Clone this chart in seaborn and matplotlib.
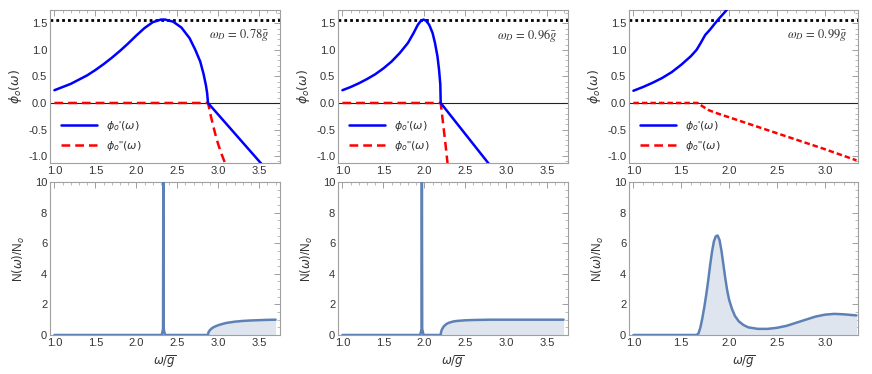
import numpy as np
import matplotlib
matplotlib.use("Agg")
import matplotlib.pyplot as plt
from matplotlib.ticker import MultipleLocator, FormatStrFormatter
import seaborn as sns

# --- data ---
labels_wd = ["0.78", "0.96", "0.99"]
x_limits = [(0.946, 3.754), (0.946, 3.754), (0.954, 3.346)]

# panel 1 (omega_D = 0.78 g)
p1_re_w = [1.0, 1.1, 1.2, 1.3, 1.4, 1.5, 1.6, 1.7, 1.8, 1.9, 2.0, 2.1, 2.2, 2.3, 2.35, 2.45,
           2.55, 2.65, 2.72, 2.78, 2.82, 2.85, 2.865, 2.875, 3.53]
p1_re_v = [0.24, 0.3, 0.36, 0.44, 0.52, 0.62, 0.73, 0.85, 0.98, 1.12, 1.27, 1.41, 1.52, 1.57, 1.57, 1.53,
           1.42, 1.22, 1.0, 0.78, 0.55, 0.33, 0.18, 0.0, -1.15]
p1_im_w = [1.0, 2.875, 2.89, 2.91, 2.94, 2.97, 3.0, 3.04, 3.09]
p1_im_v = [0.0, 0.0, -0.1, -0.25, -0.44, -0.62, -0.78, -0.96, -1.16]
p1_dos_w = [1.0, 2.31, 2.326, 2.33, 2.334, 2.35, 2.875, 2.878, 2.885, 2.9, 2.92, 2.95, 3.0, 3.05,
            3.1, 3.2, 3.3, 3.4, 3.5, 3.6, 3.7]
p1_dos_v = [0.0, 0.0, 0.4, 12.0, 0.4, 0.0, 0.0, 0.12, 0.22, 0.33, 0.43, 0.53, 0.64, 0.72,
            0.79, 0.87, 0.92, 0.95, 0.97, 0.99, 1.0]

# panel 2 (omega_D = 0.96 g)
p2_re_w = [1.0, 1.1, 1.2, 1.3, 1.4, 1.5, 1.6, 1.7, 1.8, 1.87, 1.92, 1.96, 1.99, 2.02, 2.06, 2.1,
           2.13, 2.16, 2.18, 2.195, 2.2, 2.79]
p2_re_v = [0.24, 0.3, 0.37, 0.45, 0.54, 0.65, 0.78, 0.94, 1.13, 1.32, 1.47, 1.55, 1.57, 1.55, 1.47, 1.32,
           1.13, 0.88, 0.62, 0.35, 0.0, -1.15]
p2_im_w = [1.0, 2.2, 2.23, 2.26, 2.285]
p2_im_v = [0.0, 0.0, -0.4, -0.8, -1.16]
p2_dos_w = [1.0, 1.95, 1.966, 1.97, 1.974, 1.99, 2.2, 2.203, 2.21, 2.22, 2.24, 2.27, 2.3, 2.35,
            2.4, 2.5, 2.6, 2.8, 3.7]
p2_dos_v = [0.0, 0.0, 0.4, 12.0, 0.4, 0.0, 0.0, 0.15, 0.3, 0.42, 0.58, 0.72, 0.8, 0.88,
            0.92, 0.96, 0.98, 1.0, 1.0]

# panel 3 (omega_D = 0.99 g)
p3_re_w = [1.0, 1.1, 1.2, 1.3, 1.4, 1.5, 1.6, 1.66, 1.7, 1.75, 1.8, 1.88, 1.95, 2.02]
p3_re_v = [0.23, 0.3, 0.38, 0.47, 0.58, 0.72, 0.88, 1.0, 1.12, 1.28, 1.38, 1.56, 1.7, 1.85]
p3_im_w = [1.0, 1.67, 1.72, 1.78, 1.85, 2.0, 2.5, 3.0, 3.33]
p3_im_v = [0.0, 0.0, -0.06, -0.13, -0.18, -0.27, -0.57, -0.87, -1.08]
p3_dos_w = [1.0, 1.66, 1.68, 1.7, 1.72, 1.74, 1.76, 1.78, 1.8, 1.82, 1.84, 1.86, 1.88, 1.9, 1.92,
            1.94, 1.96, 1.98, 2.0, 2.03, 2.06, 2.1, 2.15, 2.2, 2.3, 2.4, 2.5, 2.6, 2.7, 2.8,
            2.9, 3.0, 3.1, 3.2, 3.33]
p3_dos_v = [0.0, 0.0, 0.1, 0.5, 1.1, 1.8, 2.6, 3.5, 4.5, 5.4, 6.1, 6.45, 6.5, 6.2, 5.5,
            4.6, 3.7, 2.9, 2.3, 1.7, 1.25, 0.9, 0.65, 0.5, 0.4, 0.4, 0.47, 0.6, 0.8, 1.0,
            1.2, 1.33, 1.38, 1.35, 1.28]

re_data = [(p1_re_w, p1_re_v), (p2_re_w, p2_re_v), (p3_re_w, p3_re_v)]
im_data = [(p1_im_w, p1_im_v), (p2_im_w, p2_im_v), (p3_im_w, p3_im_v)]
dos_data = [(p1_dos_w, p1_dos_v), (p2_dos_w, p2_dos_v), (p3_dos_w, p3_dos_v)]

# --- style ---
sns.set_theme(style="white")
plt.rcParams["font.family"] = ["Liberation Sans", "DejaVu Sans"]
plt.rcParams["mathtext.fontset"] = "dejavusans"

FRAME = "#a0a0a0"
TXT = "#333333"
DOS_LINE = "#5e81b5"
DOS_FILL = "#dfe5ef"

fig = plt.figure(figsize=(8.72, 3.74), dpi=100)
W, H = 872.0, 374.0
lefts = [50, 338, 629]
widths = [230, 230, 229]


def style_axes(ax, xmajor, ymajor, yminor):
    for s in ax.spines.values():
        s.set_color(FRAME)
        s.set_linewidth(0.8)
    ax.xaxis.set_major_locator(MultipleLocator(xmajor))
    ax.xaxis.set_minor_locator(MultipleLocator(0.1))
    ax.yaxis.set_major_locator(MultipleLocator(ymajor))
    ax.yaxis.set_minor_locator(MultipleLocator(yminor))
    ax.tick_params(which="both", direction="in", top=True, right=True,
                   color=FRAME, labelsize=8, labelcolor=TXT, pad=2)
    ax.tick_params(which="major", length=4, width=0.7)
    ax.tick_params(which="minor", length=2, width=0.5)
    ax.xaxis.set_major_formatter(FormatStrFormatter("%.1f"))


for i in range(3):
    # top row: order parameter
    ax = fig.add_axes([lefts[i] / W, 1 - 163 / H, widths[i] / W, 153 / H])
    ax.axhline(0, color="#222222", lw=0.8, zorder=1)
    ax.axhline(np.pi / 2, color="black", lw=2.0, linestyle=(0, (1, 1.1)), zorder=2)
    w, v = re_data[i]
    sns.lineplot(x=w, y=v, ax=ax, color="#0000ff", lw=1.8, sort=False,
                 estimator=None, label=r"$\phi_o$'$(\omega)$", zorder=4)
    w, v = im_data[i]
    im_dash = (0, (3.5, 2)) if i < 2 else (0, (2.2, 1.2))
    sns.lineplot(x=w, y=v, ax=ax, color="#ff0000", lw=1.8, sort=False,
                 estimator=None, label=r"$\phi_o$''$(\omega)$", zorder=3)
    ax.lines[-1].set_linestyle(im_dash)
    ax.set_xlim(*x_limits[i])
    ax.set_ylim(-1.13, 1.75)
    style_axes(ax, 0.5, 0.5, 0.1)
    ax.yaxis.set_major_formatter(FormatStrFormatter("%.1f"))
    ax.set_xlabel("")
    ax.set_ylabel(r"$\phi_o(\omega)$", fontsize=9, color=TXT, labelpad=3)
    leg = ax.legend(loc="lower left", bbox_to_anchor=(0.02, 0.02), frameon=False,
                    fontsize=8, handlelength=3.2, labelspacing=0.6, borderaxespad=0.2)
    for t in leg.get_texts():
        t.set_color(TXT)
    for h in leg.get_lines():
        h.set_linestyle("-" if h.get_color() == "#0000ff" else (0, (3.5, 2)))
    ax.text(0.955, 0.835, r"$\omega_D\,=\,%s\bar{g}$" % labels_wd[i], transform=ax.transAxes,
            ha="right", va="center", fontsize=9, color=TXT, math_fontfamily="stix")

    # bottom row: density of states
    bx = fig.add_axes([lefts[i] / W, 1 - 335 / H, widths[i] / W, 153 / H])
    w, v = dos_data[i]
    bx.fill_between(w, v, 0, color=DOS_FILL, lw=0, zorder=1)
    sns.lineplot(x=w, y=v, ax=bx, color=DOS_LINE, lw=1.8, sort=False,
                 estimator=None, zorder=3)
    bx.set_xlim(*x_limits[i])
    bx.set_ylim(0, 10)
    style_axes(bx, 0.5, 2, 0.5)
    bx.yaxis.set_major_formatter(FormatStrFormatter("%d"))
    bx.set_xlabel(r"$\omega/\overline{g}$", fontsize=8.5, color=TXT, labelpad=4)
    bx.set_ylabel(r"N$(\omega)$/N$_o$", fontsize=8.5, color=TXT, labelpad=6)

fig.savefig("out.png", dpi=100)
